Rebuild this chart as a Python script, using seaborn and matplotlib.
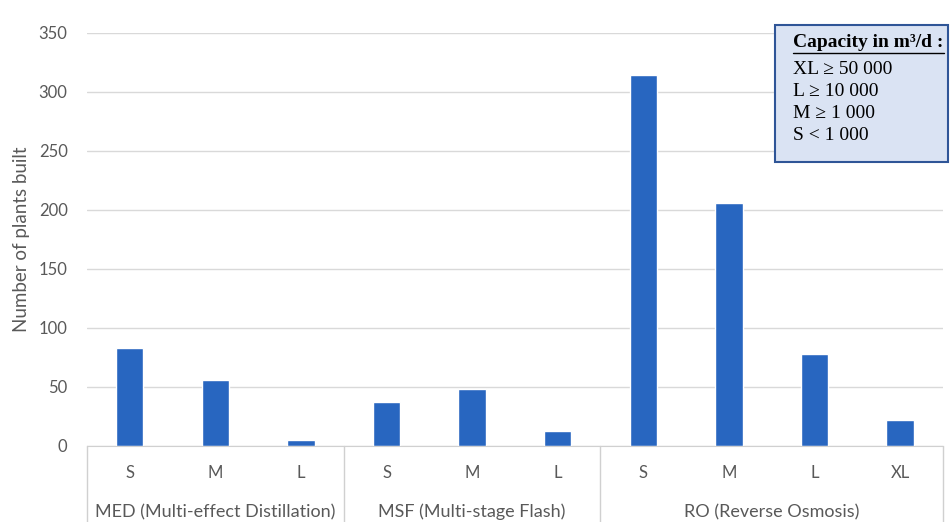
import matplotlib.pyplot as plt
import matplotlib.transforms as mtransforms
import pandas as pd
import seaborn as sns

# data
technologies = ["MED (Multi-effect Distillation)", "MSF (Multi-stage Flash)", "RO (Reverse Osmosis)"]
sizes_med = ["S", "M", "L"]
sizes_msf = ["S", "M", "L"]
sizes_ro = ["S", "M", "L", "XL"]
plants_med = [83, 56, 5]
plants_msf = [37, 48, 13]
plants_ro = [314, 206, 78, 22]

legend_title = "Capacity in m\u00b3/d :"
legend_lines = ["XL \u2265 50 000", "L \u2265 10 000", "M \u2265 1 000", "S < 1 000"]

rows = []
for tech, sizes, vals in zip(technologies, [sizes_med, sizes_msf, sizes_ro],
                             [plants_med, plants_msf, plants_ro]):
    for s, v in zip(sizes, vals):
        rows.append({"tech": tech, "size": s, "key": tech + "|" + s, "plants": v})
df = pd.DataFrame(rows)

sns.set_style("white")
plt.rcParams["font.family"] = ["Lato", "DejaVu Sans"]

fig = plt.figure(figsize=(9.53, 5.22), dpi=100)
ax = fig.add_axes([0.0913, 0.1456, 0.898, 0.7912])

sns.barplot(data=df, x="key", y="plants", order=list(df["key"]), color="#2866C0",
            width=0.32, saturation=1, ax=ax)

ax.set_ylim(0, 350)
ax.set_yticks(range(0, 351, 50))
ax.yaxis.grid(True, color="#d9d9d9", linewidth=1)
ax.set_axisbelow(True)
for side in ["left", "right", "top"]:
    ax.spines[side].set_visible(False)
ax.spines["bottom"].set_color("#d0d0d0")
ax.tick_params(axis="y", length=0, labelsize=12, labelcolor="#595959", pad=14)
ax.tick_params(axis="x", length=0, labelsize=12, labelcolor="#595959", pad=14)
ax.set_xticks(range(len(df)))
ax.set_xticklabels(df["size"])
ax.set_xlabel("")
ax.set_ylabel("Number of plants built", fontsize=13.5, color="#595959", labelpad=6)
ax.set_xlim(-0.5, len(df) - 0.5)

# group separators and group labels under the axis
trans = mtransforms.blended_transform_factory(ax.transData, ax.transAxes)
counts = [len(sizes_med), len(sizes_msf), len(sizes_ro)]
start = -0.5
for tech, n in zip(technologies, counts):
    ax.plot([start, start], [0, -0.19], transform=trans, color="#d0d0d0",
            linewidth=1, clip_on=False)
    ax.text(start + n / 2, -0.16, tech, transform=trans, ha="center", va="center",
            fontsize=13, color="#595959")
    start += n
ax.plot([start, start], [0, -0.19], transform=trans, color="#d0d0d0",
        linewidth=1, clip_on=False)

# capacity box
box = plt.Rectangle((0.813, 0.69), 0.182, 0.262, transform=fig.transFigure,
                    facecolor="#dae3f3", edgecolor="#2f5597", linewidth=1.5, zorder=5)
fig.add_artist(box)
fig.text(0.832, 0.918, legend_title, fontsize=14, fontweight="bold",
         family="Liberation Serif", va="center", color="black", zorder=7)
fig.add_artist(plt.Line2D([0.832, 0.991], [0.899, 0.899], transform=fig.transFigure,
                          color="black", linewidth=1, zorder=7))
for i, line in enumerate(legend_lines):
    fig.text(0.832, 0.867 - i * 0.0425, line, fontsize=14, family="Liberation Serif",
             va="center", color="black", zorder=7)

fig.savefig("out.png", dpi=100)
